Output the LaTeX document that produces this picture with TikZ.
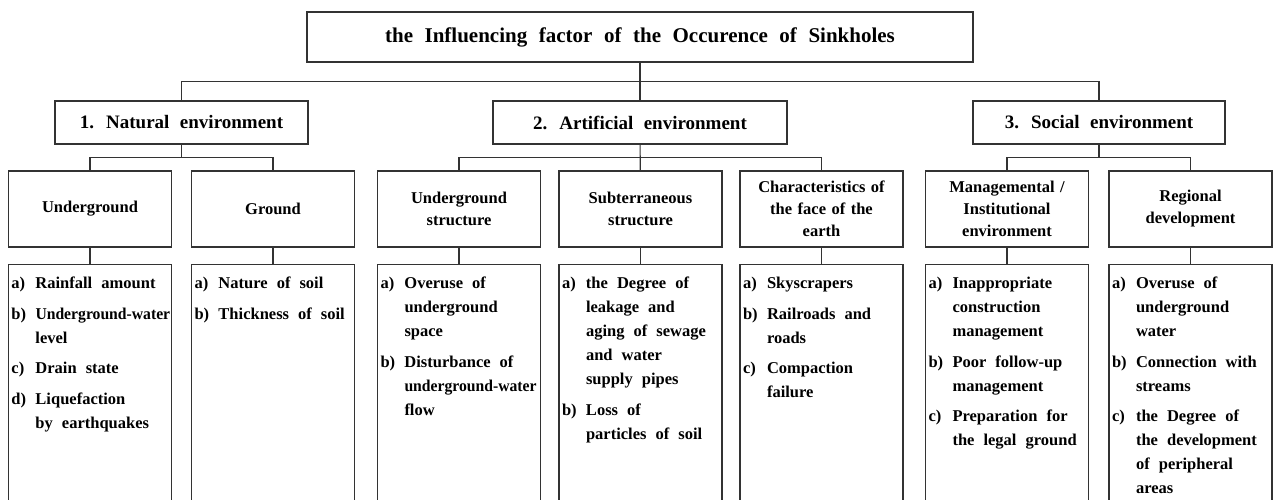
\documentclass[tikz,border=0pt]{standalone}
\usepackage{fontspec}
\setmainfont{Liberation Serif}[WordSpace=2.2]
\usepackage{graphicx}
\usepackage{tikz}

\newlength{\lbl}
\setlength{\lbl}{24pt}
\newcommand{\fitem}[2]{\hangindent=\lbl\hangafter=1\noindent\makebox[\lbl][l]{#1}#2\par\vspace{6.5pt}}
\newcommand{\flist}[1]{\parbox[t][230pt][t]{157pt}{\fontsize{16.5}{24}\selectfont\raggedright\let\\\newline #1}}
\newcommand{\narrow}[1]{\scalebox{0.95}[1]{#1}}

\begin{document}
\begin{tikzpicture}[
    x=1pt, y=-1pt,
    topbox/.style={
        rectangle,
        draw=black!80,
        line width=1.1pt,
        minimum width=666pt,
        minimum height=50pt,
        font=\fontsize{21}{24}\selectfont\bfseries
    },
    envbox/.style={
        rectangle,
        draw=black!80,
        line width=1.1pt,
        minimum height=43pt,
        font=\fontsize{19}{22}\selectfont\bfseries
    },
    catbox/.style={
        rectangle,
        draw=black!80,
        line width=1.1pt,
        align=center,
        text width=155pt,
        minimum width=163pt,
        minimum height=76pt,
        inner sep=4pt,
        font=\fontsize{16.5}{22}\selectfont\bfseries
    },
    listbox/.style={
        rectangle,
        draw=black!80,
        line width=1.1pt,
        anchor=north,
        inner xsep=3pt,
        inner ysep=12.5pt,
        font=\bfseries
    },
    link/.style={draw=black!80, line width=1.1pt}
]

\path[use as bounding box, clip] (0,0) rectangle (1274,499);

% Top
\node[topbox] (title) at (640,37) {the Influencing factor of the Occurence of Sinkholes};

% Environments
\node[envbox, minimum width=253pt] (nat) at (181.5,122.5) {1. Natural environment};
\node[envbox, minimum width=294pt] (art) at (640,122.5) {2. Artificial environment};
\node[envbox, minimum width=252pt] (soc) at (1099,122.5) {3. Social environment};

% Categories
\node[catbox] (ug) at (90,209) {Underground};
\node[catbox] (gr) at (273,209) {Ground};
\node[catbox] (ust) at (459,209) {Underground\\structure};
\node[catbox] (sst) at (640.5,209) {Subterraneous\\structure};
\node[catbox] (face) at (821.5,209) {Characteristics of\\the face of the\\earth};
\node[catbox] (mgmt) at (1007,209) {Managemental /\\Institutional\\environment};
\node[catbox] (reg) at (1190.5,209) {Regional\\development};

% Factors
\node[listbox] (ugl) at (90,264) {\flist{%
    \fitem{a)}{Rainfall amount}
    \fitem{b)}{\narrow{Underground-water}\\level}
    \fitem{c)}{Drain state}
    \fitem{d)}{Liquefaction\\by earthquakes}}};
\node[listbox] (grl) at (273,264) {\flist{%
    \fitem{a)}{Nature of soil}
    \fitem{b)}{Thickness of soil}}};
\node[listbox] (ustl) at (459,264) {\flist{%
    \fitem{a)}{Overuse of\\underground\\space}
    \fitem{b)}{Disturbance of\\\narrow{underground-water}\\flow}}};
\node[listbox] (sstl) at (640.5,264) {\flist{%
    \fitem{a)}{the Degree of\\leakage and\\aging of sewage\\and water\\supply pipes}
    \fitem{b)}{Loss of\\particles of soil}}};
\node[listbox] (facel) at (821.5,264) {\flist{%
    \fitem{a)}{Skyscrapers}
    \fitem{b)}{Railroads and\\roads}
    \fitem{c)}{Compaction\\failure}}};
\node[listbox] (mgmtl) at (1007,264) {\flist{%
    \fitem{a)}{Inappropriate\\construction\\management}
    \fitem{b)}{Poor follow-up\\management}
    \fitem{c)}{Preparation for\\the legal ground}}};
\node[listbox] (regl) at (1190.5,264) {\flist{%
    \fitem{a)}{Overuse of\\underground\\water}
    \fitem{b)}{Connection with\\streams}
    \fitem{c)}{the Degree of\\the development\\of peripheral\\areas}}};

% Junctions
\coordinate (j0) at (640,81.5);
\coordinate (j1) at (181.5,157.5);
\coordinate (j2) at (640,157.5);
\coordinate (j3) at (1099,157.5);

% Top links
\draw[link] (title) -- (art);
\draw[link] (nat.north) |- (j0) -| (soc.north);

% Environment links
\draw[link] (nat) -- (j1);
\draw[link] (ug.north) |- (j1) -| (gr.north);
\draw[link] (art) -- (sst);
\draw[link] (ust.north) |- (j2) -| (face.north);
\draw[link] (soc) -- (j3);
\draw[link] (mgmt.north) |- (j3) -| (reg.north);

% Category links
\draw[link] (ug) -- (ugl);
\draw[link] (gr) -- (grl);
\draw[link] (ust) -- (ustl);
\draw[link] (sst) -- (sstl);
\draw[link] (face) -- (facel);
\draw[link] (mgmt) -- (mgmtl);
\draw[link] (reg) -- (regl);

\end{tikzpicture}
\end{document}
